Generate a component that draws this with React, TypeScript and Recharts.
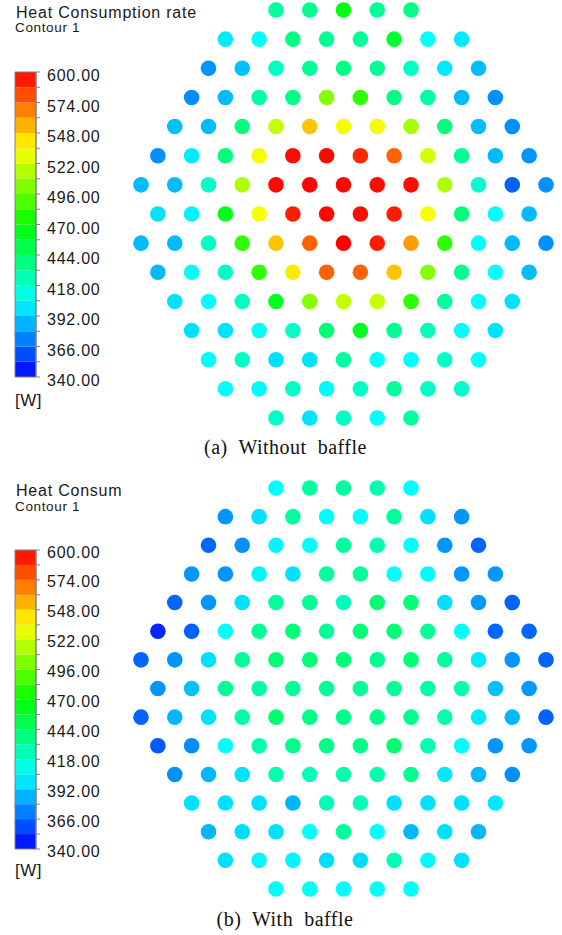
import { ScatterChart, Scatter, XAxis, YAxis, ReferenceArea } from "recharts";

const VMIN = 340;
const VMAX = 600;
const BAND = 13;

// colour bar tick labels [W]
const legendLabels = [600, 574, 548, 522, 496, 470, 444, 418, 392, 366, 340];

// heat consumption per tube, row by row from the top of the bundle
const withoutBaffle = [
  [430, 433, 465, 431, 436],
  [400, 407, 436, 432, 431, 458, 405, 400],
  [378, 389, 420, 431, 436, 431, 420, 399, 388],
  [376, 388, 428, 436, 504, 482, 436, 428, 388, 377],
  [389, 388, 438, 520, 550, 532, 532, 512, 438, 388, 377],
  [377, 400, 438, 532, 597, 598, 590, 575, 523, 432, 388, 378],
  [388, 388, 420, 515, 598, 599, 598, 597, 597, 515, 418, 365, 377],
  [398, 402, 462, 533, 592, 598, 597, 593, 533, 438, 405, 388],
  [388, 388, 420, 482, 550, 575, 600, 593, 560, 482, 405, 388, 377],
  [387, 407, 420, 482, 540, 575, 575, 550, 504, 432, 405, 388],
  [398, 405, 420, 462, 504, 520, 520, 482, 430, 405, 398],
  [397, 398, 405, 420, 440, 462, 433, 422, 405, 398],
  [405, 420, 397, 398, 430, 405, 405, 420, 405],
  [405, 404, 420, 404, 420, 430, 420, 418],
  [420, 398, 420, 405, 430],
];

const withBaffle = [
  [405, 430, 430, 425, 405],
  [378, 397, 430, 405, 405, 430, 397, 378],
  [366, 377, 403, 406, 430, 425, 405, 378, 366],
  [378, 378, 403, 397, 430, 430, 405, 404, 378, 379],
  [366, 378, 397, 430, 432, 422, 440, 440, 397, 379, 365],
  [350, 365, 405, 432, 440, 432, 440, 440, 432, 405, 366, 366],
  [366, 378, 397, 432, 440, 440, 440, 433, 440, 430, 400, 378, 365],
  [378, 389, 432, 428, 432, 432, 432, 432, 428, 425, 389, 379],
  [365, 387, 397, 428, 442, 435, 435, 435, 435, 425, 400, 387, 365],
  [363, 376, 405, 425, 435, 435, 435, 442, 425, 405, 378, 378],
  [377, 387, 397, 425, 423, 425, 425, 433, 399, 387, 377],
  [397, 397, 397, 386, 423, 423, 397, 397, 397, 399],
  [387, 396, 397, 405, 432, 405, 387, 397, 387],
  [397, 404, 403, 396, 396, 424, 404, 398],
  [406, 407, 405, 406, 407],
];

// rainbow map: blue at 340 W through cyan, green, yellow to red at 600 W
function heatColor(v: number) {
  const t = Math.min(1, Math.max(0, (v - VMIN) / (VMAX - VMIN)));
  return `hsl(${(240 * (1 - t)).toFixed(1)}, 100%, 50%)`;
}

const bands = Array.from({ length: (VMAX - VMIN) / BAND }, (_, i) => ({
  lo: VMIN + i * BAND,
  hi: VMIN + (i + 1) * BAND,
}));
const bandTicks = [...bands.map((b) => b.lo), VMAX];
// one anchor point per band so the legend axes have data to work from
const bandMids = bands.map((b) => ({ x: 0.5, y: (b.lo + b.hi) / 2 }));

// staggered layout: each row centred, neighbours two half-pitches apart
function toPoints(rows: number[][]) {
  return rows.flatMap((row, r) =>
    row.map((v, i) => ({ x: -(row.length - 1) + 2 * i, y: r, v }))
  );
}

const Tube = (props: any) => (
  <circle cx={props.cx} cy={props.cy} r={7.8} fill={heatColor(props.payload.v)} />
);

function TubeMap({ rows, top, mt, mb }: { rows: number[][]; top: number; mt: number; mb: number }) {
  return (
    <div style={{ position: "absolute", left: 0, top }}>
      <ScatterChart width={562} height={440} margin={{ top: mt, right: 16, bottom: mb, left: 141 }}>
        <XAxis type="number" dataKey="x" domain={[-12, 12]} hide height={0} />
        <YAxis type="number" dataKey="y" domain={[0, 14]} reversed hide width={0} />
        <Scatter data={toPoints(rows)} shape={Tube} isAnimationActive={false} />
      </ScatterChart>
    </div>
  );
}

function ColorBar({ top, mt, mb, dy }: { top: number; mt: number; mb: number; dy: number }) {
  const tick = (p: any) => {
    const v = p.payload.value;
    if (!legendLabels.includes(v)) return <g />;
    return (
      <text x={p.x} y={p.y} dy={dy} fill="#1a1a1a" fontSize={16} letterSpacing={0.75}
        fontFamily="'Liberation Sans', Arial, sans-serif" textAnchor="start">
        {v.toFixed(2)}
      </text>
    );
  };
  return (
    <div style={{ position: "absolute", left: 0, top }}>
      <ScatterChart width={120} height={340} margin={{ top: mt, right: 14, bottom: mb, left: 15 }}>
        <XAxis type="number" dataKey="x" domain={[0, 1]} hide height={0} />
        <YAxis type="number" dataKey="y" domain={[VMIN, VMAX]} ticks={bandTicks} interval={0}
          orientation="right" width={70} tickSize={4} tickMargin={7}
          axisLine={{ stroke: "#808080" }} tickLine={{ stroke: "#808080" }} tick={tick} />
        {bands.map((b) => (
          <ReferenceArea key={b.lo} x1={0} x2={1} y1={b.lo} y2={b.hi} fill={heatColor((b.lo + b.hi) / 2)}
            fillOpacity={1} stroke="none" ifOverflow="visible" />
        ))}
        <ReferenceArea x1={0} x2={1} y1={VMIN} y2={VMAX} fill="none" stroke="#808080" strokeWidth={1}
          ifOverflow="visible" />
        <Scatter data={bandMids} shape={() => <g />} isAnimationActive={false} />
      </ScatterChart>
    </div>
  );
}

const sans = "'Liberation Sans', Arial, sans-serif";
const serif = "'Liberation Serif', 'Times New Roman', serif";

export default function App() {
  return (
    <div style={{ position: "absolute", left: 0, top: 0, width: 562, height: 935, background: "#fff", overflow: "hidden" }}>
      <TubeMap rows={withoutBaffle} top={0} mt={10} mb={22} />
      <ColorBar top={60} mt={12} mb={23} dy={9} />
      <TubeMap rows={withBaffle} top={470} mt={18} mb={21} />
      <ColorBar top={540} mt={10} mb={31} dy={7.5} />
      <svg width={562} height={935} style={{ position: "absolute", left: 0, top: 0, pointerEvents: "none" }}>
        <g fill="#1a1a1a" fontFamily={sans}>
          <text x={16} y={17.5} fontSize={16} letterSpacing={0.78}>Heat Consumption rate</text>
          <text x={15} y={32.3} fontSize={13.5} letterSpacing={0.65}>Contour 1</text>
          <text x={15} y={406} fontSize={17} letterSpacing={0.5}>[W]</text>
          <text x={16} y={496} fontSize={16} letterSpacing={0.78}>Heat Consum</text>
          <text x={15} y={510.5} fontSize={13.5} letterSpacing={0.65}>Contour 1</text>
          <text x={15} y={876} fontSize={17} letterSpacing={0.5}>[W]</text>
        </g>
        <g fill="#111" fontFamily={serif} fontSize={20} letterSpacing={0.5} textAnchor="middle">
          <text x={285.5} y={454} xmlSpace="preserve">{"(a)  Without  baffle"}</text>
          <text x={285} y={926} xmlSpace="preserve">{"(b)  With  baffle"}</text>
        </g>
      </svg>
    </div>
  );
}
